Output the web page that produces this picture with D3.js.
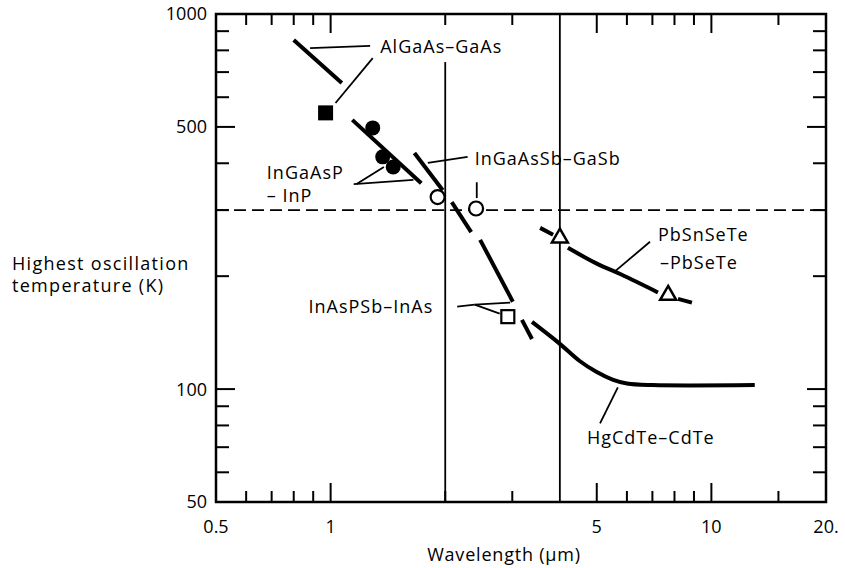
<!DOCTYPE html>
<html><head><meta charset="utf-8">
<script src="https://cdn.jsdelivr.net/npm/d3@7"></script>
<style>
body{margin:0;background:#fff}
svg{display:block}
text{font-family:"Open Sans",sans-serif;fill:#000}
</style>
</head><body>
<svg id="chart" width="845" height="568"></svg>
<script>
// ---------- data ----------
const xDomain = [0.5, 20];
const yDomain = [50, 1000];
const xTickValues = [0.5, 1, 5, 10, 20];
const xTickLabels = ["0.5", "1", "5", "10", "20."];
const yTickValues = [1000, 500, 100, 50];
const yTickLabels = ["1000", "500", "100", "50"];
const xMinorTicks = [0.6, 0.7, 0.8, 0.9, 3, 6, 7, 8, 9, 15];
const xMajorTicks = [1, 5, 10];
const yMinorTicks = [60, 70, 80, 90, 200, 300, 400, 600, 700, 800, 900];
const yMajorTicks = [100, 500];
const verticalRefs = [[2, 745], [4, 1000]];   // [wavelength, top temperature]
const horizontalRef = 300;

// series segments (wavelength µm, temperature K)
const alGaAsLine     = [[0.80, 852], [1.07, 655]];
const inGaAsPLine    = [[1.14, 522], [1.73, 354]];
const inGaAsSbLine1  = [[1.66, 426], [1.97, 339]];
const inGaAsSbLine2  = [[2.08, 315], [2.34, 262]];
const inAsPSbLine1   = [[2.47, 250], [3.01, 171]];
const inAsPSbLine2   = [[3.18, 153], [3.38, 136]];
const hgCdTeCurve    = [[3.38, 151], [4.0, 132], [4.5, 119], [5.0, 111], [5.5, 106], [6.0, 103.5], [7.0, 102.5], [13, 102.5]];
const pbSnSeTeLine1  = [[3.55, 269], [3.84, 258]];
const pbSnSeTeCurve  = [[4.2, 238], [5.0, 216], [5.8, 202], [7.24, 181]];
const pbSnSeTeLine2  = [[8.17, 174], [8.89, 170]];

// measured points
const filledSquares = [[0.97, 545]];
const filledCircles = [[1.29, 497], [1.37, 416], [1.46, 391]];
const openCircles   = [[1.91, 325], [2.41, 303]];
const openSquares   = [[2.92, 156]];
const openTriangles = [[4.0, 253], [7.7, 178]];

// annotations: text [x, y, label, anchor]
const labels = [
  [1.35, 817, "AlGaAs\u2013GaAs", "start"],
  [0.68, 379, "InGaAsP", "start"],
  [0.68, 329, "\u2013 InP", "start"],
  [2.39, 413, "InGaAsSb\u2013GaSb", "start"],
  [1.86, 166, "InAsPSb\u2013InAs", "end"],
  [7.24, 258, "PbSnSeTe", "start"],
  [7.33, 218, "\u2013PbSeTe", "start"],
  [4.71, 74.5, "HgCdTe\u2013CdTe", "start"]
];
// leader lines
const leaders = [
  [[0.883, 811], [1.27, 822]],
  [[1.29, 763], [1.03, 579]],
  [[1.15, 352], [1.65, 361]],
  [[1.17, 352], [1.38, 391]],
  [[1.80, 401], [2.29, 416]],
  [[2.42, 356], [2.42, 323]],
  [[2.15, 166], [2.39, 168]],
  [[2.39, 168], [2.96, 170]],
  [[2.39, 168], [2.78, 159]],
  [[6.9, 247], [5.58, 206]],
  [[5.68, 101], [5.1, 81]]
];
const xTitle = "Wavelength (\u03bcm)";
const yTitle = ["Highest oscillation", "temperature (K)"];

// ---------- drawing ----------
const svg = d3.select("#chart");
const x = d3.scaleLog().domain(xDomain).range([216, 826]);
const y = d3.scaleLog().domain(yDomain).range([502, 14]);
const [x0, x1] = x.range(), [y0, y1] = y.range();

const g = svg.append("g");

// reference lines
g.selectAll("line.vref").data(verticalRefs).join("line")
  .attr("x1", d => x(d[0])).attr("x2", d => x(d[0]))
  .attr("y1", y(yDomain[0])).attr("y2", d => y(d[1]))
  .attr("stroke", "#000").attr("stroke-width", 1.8);
g.append("line")
  .attr("x1", x0).attr("x2", x1).attr("y1", y(horizontalRef)).attr("y2", y(horizontalRef))
  .attr("stroke", "#000").attr("stroke-width", 1.8).attr("stroke-dasharray", "12,6");

// ticks
function xTicks(vals, len) {
  g.selectAll(null).data(vals).join("line")
    .attr("x1", d => x(d)).attr("x2", d => x(d)).attr("y1", y0).attr("y2", y0 - len)
    .attr("stroke", "#000").attr("stroke-width", 2);
  g.selectAll(null).data(vals).join("line")
    .attr("x1", d => x(d)).attr("x2", d => x(d)).attr("y1", y1).attr("y2", y1 + len)
    .attr("stroke", "#000").attr("stroke-width", 2);
}
function yTicks(vals, len) {
  g.selectAll(null).data(vals).join("line")
    .attr("x1", x0).attr("x2", x0 + len).attr("y1", d => y(d)).attr("y2", d => y(d))
    .attr("stroke", "#000").attr("stroke-width", 2);
  g.selectAll(null).data(vals).join("line")
    .attr("x1", x1).attr("x2", x1 - len).attr("y1", d => y(d)).attr("y2", d => y(d))
    .attr("stroke", "#000").attr("stroke-width", 2);
}
xTicks(xMinorTicks, 11);
xTicks(xMajorTicks, 19);
xTicks([2], 11);
yTicks(yMinorTicks, 13);
yTicks(yMajorTicks, 19);

// frame
g.append("rect").attr("x", x0).attr("y", y1).attr("width", x1 - x0).attr("height", y0 - y1)
  .attr("fill", "none").attr("stroke", "#000").attr("stroke-width", 2.5);

// tick labels
g.selectAll(null).data(xTickValues).join("text")
  .attr("x", d => x(d)).attr("y", 533)
  .attr("text-anchor", "middle").attr("font-size", 18)
  .text((d, i) => xTickLabels[i]);
g.selectAll(null).data(yTickValues).join("text")
  .attr("x", 207).attr("y", d => y(d)).attr("dy", "0.36em")
  .attr("text-anchor", "end").attr("font-size", 18)
  .text((d, i) => yTickLabels[i]);

// titles
g.append("text").attr("x", 504).attr("y", 561).attr("text-anchor", "middle")
  .attr("font-size", 18).attr("letter-spacing", 0.8).text(xTitle);
g.selectAll(null).data(yTitle).join("text")
  .attr("x", 12).attr("y", (d, i) => 270 + i * 22)
  .attr("font-size", 18).attr("letter-spacing", 1.3).text(d => d);

// series
const line = d3.line().x(d => x(d[0])).y(d => y(d[1]));
const curve = d3.line().x(d => x(d[0])).y(d => y(d[1])).curve(d3.curveCatmullRom.alpha(0.5));
[alGaAsLine, inGaAsPLine, inGaAsSbLine1, inGaAsSbLine2, inAsPSbLine1, inAsPSbLine2,
 pbSnSeTeLine1, pbSnSeTeLine2].forEach(s => {
  g.append("path").attr("d", line(s)).attr("fill", "none")
    .attr("stroke", "#000").attr("stroke-width", 4);
});
[hgCdTeCurve, pbSnSeTeCurve].forEach(s => {
  g.append("path").attr("d", curve(s)).attr("fill", "none")
    .attr("stroke", "#000").attr("stroke-width", 4);
});

// leaders
g.selectAll(null).data(leaders).join("path")
  .attr("d", d => line(d)).attr("fill", "none")
  .attr("stroke", "#000").attr("stroke-width", 1.8);

// markers
g.selectAll(null).data(filledSquares).join("rect")
  .attr("x", d => x(d[0]) - 7.5).attr("y", d => y(d[1]) - 7.5)
  .attr("width", 15).attr("height", 15).attr("fill", "#000");
g.selectAll(null).data(filledCircles).join("circle")
  .attr("cx", d => x(d[0])).attr("cy", d => y(d[1])).attr("r", 7.5).attr("fill", "#000");
g.selectAll(null).data(openCircles).join("circle")
  .attr("cx", d => x(d[0])).attr("cy", d => y(d[1])).attr("r", 7)
  .attr("fill", "#fff").attr("stroke", "#000").attr("stroke-width", 2.2);
g.selectAll(null).data(openSquares).join("rect")
  .attr("x", d => x(d[0]) - 6.5).attr("y", d => y(d[1]) - 6.5)
  .attr("width", 13).attr("height", 13)
  .attr("fill", "#fff").attr("stroke", "#000").attr("stroke-width", 2.2);
const tri = d3.symbol().type(d3.symbolTriangle).size(110);
g.selectAll(null).data(openTriangles).join("path")
  .attr("d", tri).attr("transform", d => `translate(${x(d[0])},${y(d[1])})`)
  .attr("fill", "#fff").attr("stroke", "#000").attr("stroke-width", 2.5);

// annotation labels
g.selectAll(null).data(labels).join("text")
  .attr("x", d => x(d[0])).attr("y", d => y(d[1])).attr("dy", "0.36em")
  .attr("text-anchor", d => d[3]).attr("font-size", 18).attr("letter-spacing", 1)
  .text(d => d[2]);
</script>
</body></html>
